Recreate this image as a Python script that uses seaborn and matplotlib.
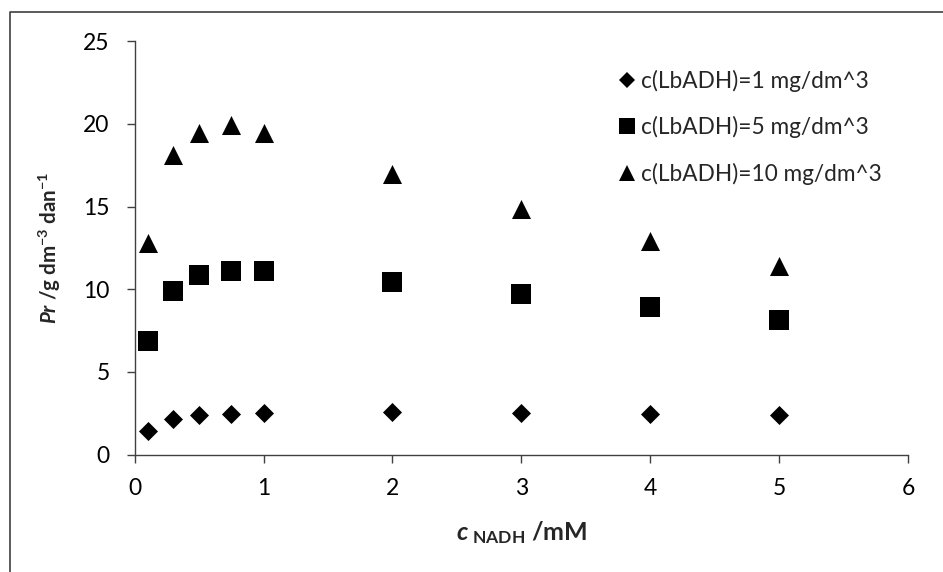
import numpy as np
import pandas as pd
import matplotlib
matplotlib.use("Agg")
import matplotlib.pyplot as plt
from matplotlib.lines import Line2D
import seaborn as sns

# ---- data ----
c_nadh = [0.1, 0.3, 0.5, 0.75, 1, 2, 3, 4, 5]
pr_1 = [1.45, 2.16, 2.40, 2.48, 2.52, 2.58, 2.54, 2.48, 2.42]
pr_5 = [6.9, 9.9, 10.86, 11.09, 11.09, 10.44, 9.70, 8.91, 8.14]
pr_10 = [12.78, 18.1, 19.43, 19.91, 19.43, 17.0, 14.87, 12.94, 11.43]
series_labels = ["c(LbADH)=1 mg/dm^3", "c(LbADH)=5 mg/dm^3", "c(LbADH)=10 mg/dm^3"]
x_ticks = [0, 1, 2, 3, 4, 5, 6]
y_ticks = [0, 5, 10, 15, 20, 25]

df = pd.DataFrame({
    "c": c_nadh * 3,
    "pr": pr_1 + pr_5 + pr_10,
    "series": [series_labels[0]] * 9 + [series_labels[1]] * 9 + [series_labels[2]] * 9,
})

sns.set_theme(style="white")
plt.rcParams["font.family"] = ["Lato", "DejaVu Sans"]
plt.rcParams["mathtext.fontset"] = "custom"
plt.rcParams["mathtext.rm"] = "Lato"
plt.rcParams["mathtext.it"] = "Lato:italic"
plt.rcParams["mathtext.bf"] = "Lato:bold"
plt.rcParams["mathtext.bfit"] = "Lato:bold:italic"

W, H = 943, 572
fig = plt.figure(figsize=(W / 100, H / 100), dpi=100)
ax = fig.add_axes([134.7 / W, 1 - 454.7 / H, (908 - 134.7) / W, (454.7 - 41.2) / H])

markers = ["D", "s", "^"]
sizes = [9.7, 13.7, 13.7]
for lab, m, sz in zip(series_labels, markers, sizes):
    sub = df[df["series"] == lab]
    sns.scatterplot(data=sub, x="c", y="pr", ax=ax, marker=m, s=sz ** 2,
                    color="black", linewidth=0, label=lab, legend=False)

ax.set_xlim(0, 6)
ax.set_ylim(0, 25)
ax.set_xticks(x_ticks)
ax.set_yticks(y_ticks)
ax.set_xticklabels([str(t) for t in x_ticks])
ax.set_yticklabels([str(t) for t in y_ticks])

axcol = "#404040"
for side in ["top", "right"]:
    ax.spines[side].set_visible(False)
for side in ["left", "bottom"]:
    ax.spines[side].set_color(axcol)
    ax.spines[side].set_linewidth(1.0)
ax.tick_params(axis="both", direction="out", length=6, width=1.0, color=axcol,
               labelsize=16.5, labelcolor="black")
ax.tick_params(axis="y", pad=12, left=True)
ax.tick_params(axis="x", pad=10.5, bottom=True)

ax.set_xlabel(r"$\mathbfit{c}_{\ \mathbf{NADH}}$ /mM", fontsize=18, fontweight="bold")
ax.set_ylabel(r"$\mathbfit{Pr}$ /g dm$^{\mathbf{-3}}$ dan$^{\mathbf{-1}}$", fontsize=14.8,
              fontweight="bold")
ax.xaxis.set_label_coords(0.5, (454.7 - 533) / (454.7 - 41.2))
ax.xaxis.label.set_verticalalignment("center")
ax.yaxis.set_label_coords((50 - 134.7) / (908 - 134.7), 0.5)
ax.yaxis.label.set_verticalalignment("center")

handles = [Line2D([], [], linestyle="none", marker=m, color="black", markersize=sz * 0.85,
                  markeredgewidth=0) for m, sz in zip(markers, sizes)]
leg = ax.legend(handles, series_labels, frameon=False, loc="upper left",
                bbox_to_anchor=(618 / W, 1 - 70 / H), bbox_transform=fig.transFigure,
                fontsize=16.3, handlelength=0.8, handletextpad=0.22, labelspacing=1.07,
                borderaxespad=0, borderpad=0)

# outer chart border (top and left visible)
fig.add_artist(Line2D([9.5 / W, 9.5 / W, 1.0], [0.0, 1 - 11.5 / H, 1 - 11.5 / H],
                      transform=fig.transFigure, color=axcol, linewidth=1.2))

fig.savefig("out.png", dpi=100)
